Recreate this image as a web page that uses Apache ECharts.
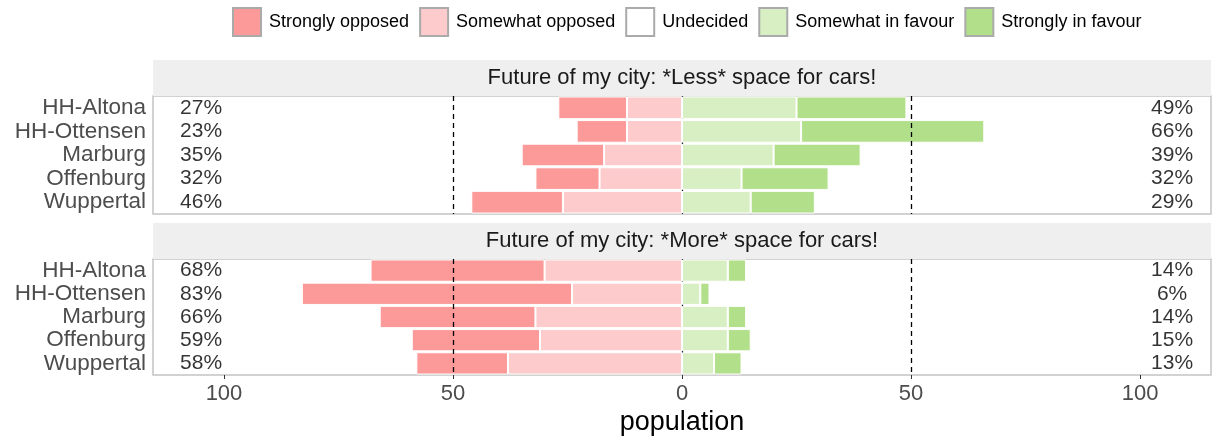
<!DOCTYPE html>
<html>
<head>
<meta charset="utf-8">
<script src="https://cdn.jsdelivr.net/npm/echarts@6/dist/echarts.min.js"></script>
<style>
  html, body { margin: 0; padding: 0; background: #fff; }
  #chart { width: 1218px; height: 437px; }
</style>
</head>
<body>
<div id="chart"></div>
<script>
const cities = ['HH-Altona', 'HH-Ottensen', 'Marburg', 'Offenburg', 'Wuppertal'];
const panelTitles = ['Future of my city: *Less* space for cars!', 'Future of my city: *More* space for cars!'];
const levels = ['Strongly opposed', 'Somewhat opposed', 'Undecided', 'Somewhat in favour', 'Strongly in favour'];
const levelColors = ['#fb9a99', '#fdcbcb', '#ffffff', '#d8efc4', '#b2df8a'];
const xTicks = [-100, -50, 0, 50, 100];

// "Less space for cars"
const lessStronglyOpposed = [15, 11, 18, 14, 20];
const lessSomewhatOpposed = [12, 12, 17, 18, 26];
const lessSomewhatFavour = [25, 26, 20, 13, 15];
const lessStronglyFavour = [24, 40, 19, 19, 14];

// "More space for cars"
const moreStronglyOpposed = [38, 59, 34, 28, 20];
const moreSomewhatOpposed = [30, 24, 32, 31, 38];
const moreSomewhatFavour = [10, 4, 10, 10, 7];
const moreStronglyFavour = [4, 2, 4, 5, 6];

const font = "'Liberation Sans', Arial, sans-serif";
const grids = [{ top: 96, height: 118 }, { top: 259, height: 117 }];
const gridLeft = 153, gridRight = 7;

const panels = [
  [lessStronglyOpposed, lessSomewhatOpposed, lessSomewhatFavour, lessStronglyFavour],
  [moreStronglyOpposed, moreSomewhatOpposed, moreSomewhatFavour, moreStronglyFavour]
];

function barSeries(name, color, g, data) {
  return {
    type: 'bar', name: name, xAxisIndex: g, yAxisIndex: g, stack: 'likert' + g,
    barCategoryGap: '4%', z: 2,
    itemStyle: { color: color, borderColor: '#fff', borderWidth: 1 },
    data: data
  };
}

let series = [];
panels.forEach(function (p, g) {
  const [so, swo, swf, sf] = p;
  // negatives and positives stack separately from 0 outwards
  series.push(barSeries(levels[1], levelColors[1], g, swo.map(v => -v)));
  series.push(barSeries(levels[0], levelColors[0], g, so.map(v => -v)));
  series.push(barSeries(levels[3], levelColors[3], g, swf));
  series.push(barSeries(levels[4], levelColors[4], g, sf));
  if (g === 0) series.push(barSeries(levels[2], levelColors[2], g, []));

  const left = so.map((v, i) => v + swo[i]);
  const right = sf.map((v, i) => v + swf[i]);
  const pctLabel = {
    show: true, position: 'inside', fontSize: 21, color: '#000', fontFamily: font,
    formatter: prm => prm.value[2] + '%'
  };
  series.push({ type: 'scatter', name: 'pl' + g, xAxisIndex: g, yAxisIndex: g, symbolSize: 0, silent: true,
    label: pctLabel, data: cities.map((c, i) => [-105, c, left[i]]) });
  series.push({ type: 'scatter', name: 'pr' + g, xAxisIndex: g, yAxisIndex: g, symbolSize: 0, silent: true,
    label: pctLabel, data: cities.map((c, i) => [107, c, right[i]]) });

  // reference lines: 0 behind the bars, +-50 on top
  series.push({ type: 'line', name: 'ref0' + g, xAxisIndex: g, yAxisIndex: g, data: [], z: 1,
    markLine: { silent: true, symbol: 'none', z: 1, label: { show: false },
      lineStyle: { color: '#000', type: [5, 4], width: 1.3 }, data: [{ xAxis: 0 }] } });
  series.push({ type: 'line', name: 'ref50' + g, xAxisIndex: g, yAxisIndex: g, data: [], z: 5,
    markLine: { silent: true, symbol: 'none', label: { show: false },
      lineStyle: { color: '#000', type: [5, 4], width: 1.3 },
      data: [{ xAxis: -50 }, { xAxis: 50 }] } });
});

const chart = echarts.init(document.getElementById('chart'));
chart.setOption({
  animation: false,
  textStyle: { fontFamily: font },
  legend: {
    data: levels, top: 2, left: 227, icon: 'rect',
    itemWidth: 28, itemHeight: 28, itemGap: 10,
    itemStyle: { borderColor: '#aaaaaa', borderWidth: 2 },
    textStyle: { fontSize: 18, color: '#000', fontFamily: font, padding: [0, 0, 0, 3] }
  },
  graphic: grids.map(function (gr, g) {
    return {
      type: 'group',
      children: [
        { type: 'rect', shape: { x: gridLeft, y: gr.top - 36, width: 1218 - gridLeft - gridRight, height: 36 },
          style: { fill: '#efefef' }, silent: true },
        { type: 'text', x: gridLeft + (1218 - gridLeft - gridRight) / 2, y: gr.top - 18,
          style: { text: panelTitles[g], fontSize: 22, fill: '#1a1a1a', fontFamily: font,
            align: 'center', verticalAlign: 'middle' }, silent: true }
      ]
    };
  }),
  grid: grids.map(gr => ({ left: gridLeft, right: gridRight, top: gr.top, height: gr.height,
    show: true, borderColor: '#c4c4c4', borderWidth: 1.5, backgroundColor: '#fff' })),
  xAxis: grids.map((gr, g) => ({
    type: 'value', gridIndex: g, min: -115.5, max: 115.5,
    splitLine: { show: false },
    axisLine: { show: false },
    axisTick: { show: g === 1, length: 4, lineStyle: { color: '#333' }, customValues: xTicks },
    axisLabel: { show: g === 1, fontSize: 22, color: '#4d4d4d', margin: 8, customValues: xTicks,
      formatter: v => String(Math.abs(v)) },
    name: g === 1 ? 'population' : '',
    nameLocation: 'middle', nameGap: 34,
    nameTextStyle: { fontSize: 27, color: '#000', fontFamily: font }
  })),
  yAxis: grids.map((gr, g) => ({
    type: 'category', gridIndex: g, data: cities, inverse: true,
    axisLine: { show: false },
    axisTick: { show: true, length: 3, alignWithLabel: true, lineStyle: { color: '#bbbbbb' } },
    axisLabel: { fontSize: 22.5, color: '#4d4d4d', margin: 7, interval: 0 }
  })),
  series: series
});
</script>
</body>
</html>
